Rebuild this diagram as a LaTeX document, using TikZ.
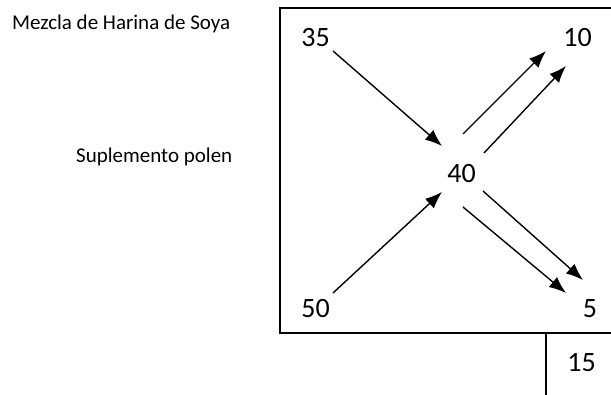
\documentclass[tikz,border=0pt]{standalone}
\usepackage{fontspec}
\setmainfont{Carlito}
\usetikzlibrary{arrows.meta}

\tikzset{
  numero/.style={inner sep=0pt,anchor=base,font=\fontsize{28}{34}\selectfont},
  rotulo/.style={inner sep=0pt,anchor=base west,font=\fontsize{21}{25}\selectfont},
  flecha/.style={line width=1.4pt,-{Latex[length=17pt,width=13pt]}},
  marco/.style={line width=1.4pt}
}

\begin{document}
\begin{tikzpicture}[x=1pt,y=1pt]
\useasboundingbox (0,0) rectangle (611,395);
\node[rotulo] (mezcla) at (12,365) {Mezcla de Harina de Soya};
\node[rotulo] (polen) at (76,232) {Suplemento polen};
\node[numero] (n35) at (315.5,348) {35};
\node[numero] (n10) at (577.5,348) {10};
\node[numero] (n40) at (461.5,212) {40};
\node[numero] (n50) at (315.5,77) {50};
\node[numero] (n5) at (590,77) {5};
\node[numero] (n15) at (581.5,23) {15};
\draw[marco] (611,387) -- (280,387) -- (280,62) -- (611,62);
\draw[marco] (546,62) -- (546,0);
\draw[flecha] ([shift={(17.5,-4)}]n35.base) -- ([shift={(-19.5,37)}]n40.base);
\draw[flecha] ([shift={(17.5,25)}]n50.base) -- ([shift={(-19.5,-9)}]n40.base);
\draw[flecha] ([shift={(1.5,49)}]n40.base) -- ([shift={(-31.5,-4)}]n10.base);
\draw[flecha] ([shift={(22.5,30)}]n40.base) -- ([shift={(-11.5,-19)}]n10.base);
\draw[flecha] ([shift={(21.5,-8)}]n40.base) -- ([shift={(-7,38)}]n5.base);
\draw[flecha] ([shift={(1.5,-24)}]n40.base) -- ([shift={(-24,25)}]n5.base);
\end{tikzpicture}
\end{document}
